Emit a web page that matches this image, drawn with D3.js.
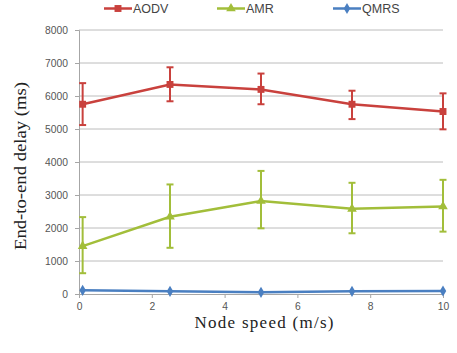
<!DOCTYPE html>
<html>
<head>
<meta charset="utf-8">
<script src="https://cdn.jsdelivr.net/npm/d3@7"></script>
<style>
  body { margin: 0; background: #fff; }
  svg { display: block; }
</style>
</head>
<body>
<div id="chart"></div>
<script>
// node speed (m/s)
const speeds = [0.1, 2.5, 5, 7.5, 10];

const aodvMean = [5750, 6350, 6200, 5750, 5530];
const aodvLow  = [5120, 5840, 5750, 5300, 4990];
const aodvHigh = [6390, 6870, 6680, 6160, 6080];

const amrMean = [1450, 2340, 2820, 2580, 2650];
const amrLow  = [630, 1400, 1990, 1840, 1890];
const amrHigh = [2330, 3320, 3730, 3370, 3460];

const qmrsMean = [110, 80, 50, 80, 90];

const xTicks = [0, 2, 4, 6, 8, 10];
const yTicks = [0, 1000, 2000, 3000, 4000, 5000, 6000, 7000, 8000];

const width = 457, height = 353;
const margin = { top: 30, right: 14, bottom: 59, left: 79 };

const series = [
  { name: "AODV", color: "#c9413d", mean: aodvMean, low: aodvLow, high: aodvHigh, marker: "square" },
  { name: "AMR", color: "#a2be3a", mean: amrMean, low: amrLow, high: amrHigh, marker: "triangle" },
  { name: "QMRS", color: "#4a7fc1", mean: qmrsMean, low: null, high: null, marker: "diamond" }
];

const svg = d3.select("#chart")
  .append("svg")
  .attr("width", width)
  .attr("height", height);

const x = d3.scaleLinear()
  .domain([0, 10])
  .range([margin.left, width - margin.right]);

const y = d3.scaleLinear()
  .domain([0, 8000])
  .range([height - margin.bottom, margin.top]);

// gridlines
svg.append("g")
  .selectAll("line")
  .data(yTicks.filter(d => d > 0))
  .enter()
  .append("line")
  .attr("x1", x(0))
  .attr("x2", x(10))
  .attr("y1", d => y(d))
  .attr("y2", d => y(d))
  .attr("stroke", "#bcbcbc")
  .attr("stroke-width", 1);

// axes
const yAxis = svg.append("g")
  .attr("transform", "translate(" + x(0) + ",0)")
  .call(d3.axisLeft(y).tickValues(yTicks).tickSize(4).tickPadding(7).tickFormat(d3.format("d")));

const xAxis = svg.append("g")
  .attr("transform", "translate(0," + y(0) + ")")
  .call(d3.axisBottom(x).tickValues(xTicks).tickSize(4).tickPadding(5).tickFormat(d3.format("d")));

[xAxis, yAxis].forEach(a => {
  a.select(".domain").attr("stroke", "#a6a6a6");
  a.selectAll(".tick line").attr("stroke", "#a6a6a6");
  a.selectAll(".tick text")
    .attr("fill", "#555")
    .style("font-family", "'Liberation Sans', Arial, sans-serif")
    .style("font-size", "10.3px");
});

const markerPath = {
  square: d3.symbol().type(d3.symbolSquare).size(48)(),
  triangle: d3.symbol().type(d3.symbolTriangle).size(40)(),
  diamond: d3.symbol().type(d3.symbolDiamond).size(36)()
};

const line = d3.line()
  .x(d => x(d[0]))
  .y(d => y(d[1]));

series.forEach(s => {
  const g = svg.append("g");
  const pts = speeds.map((v, i) => [v, s.mean[i], s.low ? s.low[i] : null, s.high ? s.high[i] : null]);

  // error bars
  if (s.low) {
    const eb = g.selectAll(".eb")
      .data(pts)
      .enter()
      .append("g");
    eb.append("line")
      .attr("x1", d => x(d[0])).attr("x2", d => x(d[0]))
      .attr("y1", d => y(d[2])).attr("y2", d => y(d[3]))
      .attr("stroke", s.color).attr("stroke-width", 2);
    [2, 3].forEach(k => {
      eb.append("line")
        .attr("x1", d => x(d[0]) - 3.5).attr("x2", d => x(d[0]) + 3.5)
        .attr("y1", d => y(d[k])).attr("y2", d => y(d[k]))
        .attr("stroke", s.color).attr("stroke-width", 2);
    });
  }

  g.append("path")
    .datum(pts)
    .attr("d", line)
    .attr("fill", "none")
    .attr("stroke", s.color)
    .attr("stroke-width", 2.5);

  g.selectAll(".mk")
    .data(pts)
    .enter()
    .append("path")
    .attr("d", markerPath[s.marker])
    .attr("transform", d => "translate(" + x(d[0]) + "," + y(d[1]) + ")")
    .attr("fill", s.color);
});

// legend
const legendX = [104, 217, 333];
const legend = svg.append("g")
  .selectAll("g")
  .data(series)
  .enter()
  .append("g")
  .attr("transform", (d, i) => "translate(" + legendX[i] + ",8.5)");

legend.append("line")
  .attr("x1", 0).attr("x2", 28)
  .attr("stroke", d => d.color)
  .attr("stroke-width", 2.5);

legend.append("path")
  .attr("d", d => markerPath[d.marker])
  .attr("transform", "translate(14,0)")
  .attr("fill", d => d.color);

legend.append("text")
  .attr("x", 29)
  .attr("y", 4.5)
  .text(d => d.name)
  .attr("fill", "#444")
  .style("font-family", "'Liberation Sans', Arial, sans-serif")
  .style("font-size", "12.5px");

// axis titles
svg.append("text")
  .attr("transform", "translate(26,166) rotate(-90)")
  .attr("text-anchor", "middle")
  .attr("textLength", 168)
  .attr("lengthAdjust", "spacingAndGlyphs")
  .text("End-to-end delay (ms)")
  .attr("fill", "#222")
  .style("font-family", "'Liberation Serif', 'Times New Roman', serif")
  .style("font-size", "17px");

svg.append("text")
  .attr("x", 264)
  .attr("y", 328)
  .attr("text-anchor", "middle")
  .attr("textLength", 139)
  .attr("lengthAdjust", "spacing")
  .text("Node speed (m/s)")
  .attr("fill", "#222")
  .style("font-family", "'Liberation Serif', 'Times New Roman', serif")
  .style("font-size", "17px");
</script>
</body>
</html>
